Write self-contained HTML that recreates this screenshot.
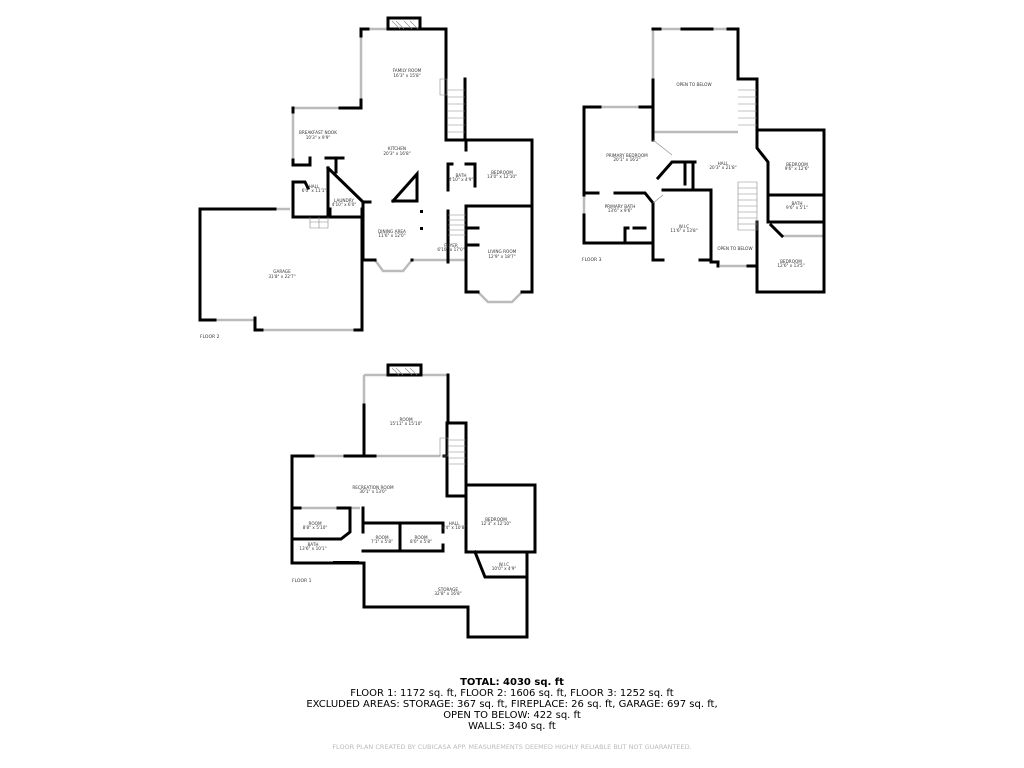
<!DOCTYPE html>
<html><head><meta charset="utf-8"><style>
html,body{margin:0;padding:0;background:#fff;width:1024px;height:768px;overflow:hidden}
svg text{font-family:"DejaVu Sans","Liberation Sans",sans-serif}
.w{fill:none;stroke:#000;stroke-width:3;stroke-linecap:square;stroke-linejoin:miter}
.t{fill:none;stroke:#000;stroke-width:2}
.g{fill:none;stroke:#bbb;stroke-width:2.5}
.s{fill:none;stroke:#888;stroke-width:0.6}
.l{font-size:4.2px;fill:#333;text-anchor:middle}
.f{font-size:4.5px;fill:#333}
</style></head><body>
<svg width="1024" height="768" viewBox="0 0 1024 768" xmlns="http://www.w3.org/2000/svg">
<!-- FLOOR 2 -->
<g>
<path class="g" d="M362 29H446 M361 29V108 M293 108H361 M293 108V160 M275 209H290 M215 320H255 M262 330H355 M412 260H466 M375 260L383 271H403L412 260 M478 292L488 302H512L522 292 M532 140V175 M465 140H532"/>
<path class="w" d="M361 29H368 M361 29V36 M420 29H446V79 M361 100V108H354 M293 108V112 M340 108H354"/>
<rect x="388" y="18" width="32" height="11" fill="none" stroke="#000" stroke-width="3"/>
<path class="s" d="M392 21L400 29M396 21L404 29M404 21L412 29M410 21L418 29"/>
<path class="w" d="M446 79V140H465 M465 79V140 M465 140H532V292H522 M466 292H478 M466 206V292 M466 206H532 M363 202V260H375 M412 260H412 M200 209H275 M200 209V320H215 M255 318V330H262 M355 330H362V209 M293 160V165H310V158 M326 158H343 M336 158V172 M293 182V217H330V209 M293 182H305L308 188 M328 168V217H363 M328 168L363 202 M393 201H417V174L393 201 M363 202H370"/>
<path class="w" d="M448 164V190 M448 164H452 M466 164H475V186 M448 211V262 M466 206V262 M466 228H478 M466 245H478 M466 140V150"/>
<path class="s" d="M448 90H465M448 97H465M448 104H465M448 111H465M448 118H465M448 125H465M448 132H465 M448 215H466M448 220H466M448 225H466M448 230H466M448 235H466 M440 79H447V95H440Z M310 217V228H328V217 M310 222H328 M319 217V228"/>
<rect x="420" y="210" width="3" height="3"/><rect x="420" y="227" width="3" height="3"/>
<text class="l" x="407" y="72">FAMILY ROOM</text><text class="l" x="407" y="77">16'3" x 15'8"</text>
<text class="l" x="318" y="134">BREAKFAST NOOK</text><text class="l" x="318" y="139">10'3" x 9'9"</text>
<text class="l" x="397" y="150">KITCHEN</text><text class="l" x="397" y="155">20'3" x 16'8"</text>
<text class="l" x="461" y="177">BATH</text><text class="l" x="461" y="181">4'10" x 4'9"</text>
<text class="l" x="502" y="174">BEDROOM</text><text class="l" x="502" y="178">13'0" x 12'10"</text>
<text class="l" x="314" y="188">HALL</text><text class="l" x="314" y="192">6'0" x 11'1"</text>
<text class="l" x="344" y="202">LAUNDRY</text><text class="l" x="344" y="206">4'10" x 6'0"</text>
<text class="l" x="392" y="233">DINING AREA</text><text class="l" x="392" y="237">11'6" x 12'0"</text>
<text class="l" x="451" y="247">FOYER</text><text class="l" x="451" y="251">6'10" x 17'0"</text>
<text class="l" x="502" y="253">LIVING ROOM</text><text class="l" x="502" y="258">12'9" x 18'7"</text>
<text class="l" x="282" y="273">GARAGE</text><text class="l" x="282" y="278">31'8" x 22'7"</text>
<text class="f" x="200" y="338">FLOOR 2</text>
</g>
<!-- FLOOR 3 -->
<g>
<path class="g" d="M653 29H738 M653 29V80 M600 107H640 M653 132H738 M584 195V215 M700 190H711 M720 266H748 M778 292H810 M782 130H810 M782 236H824"/>
<path class="w" d="M653 80V140 M653 29H660 M682 29H712 M728 29H738V79 M738 79H757 M757 79V130H824V292H757V222 M584 107H600 M640 107H653 M584 107V195 M584 215V243H653 M584 193H598 M615 193H645L653 203V260H663 M700 260H711V190H663 M711 262H718V266 M748 266H757 M757 130V148L768 162V220 M768 195H824 M768 222H824 M771 225L782 236 M658 178L672 162H695 M685 162V184 M693 162V190 M625 243V228H628 M634 228H645"/>
<path class="s" d="M738 90H757M738 97H757M738 104H757M738 111H757M738 118H757M738 125H757 M738 182H757V230H738Z M738 188H757M738 194H757M738 200H757M738 206H757M738 212H757M738 218H757M738 224H757 M653 140L672 155 M653 203L663 195"/>
<text class="l" x="694" y="86">OPEN TO BELOW</text>
<text class="l" x="627" y="157">PRIMARY BEDROOM</text><text class="l" x="627" y="161">20'1" x 16'2"</text>
<text class="l" x="723" y="165">HALL</text><text class="l" x="723" y="169">20'3" x 21'8"</text>
<text class="l" x="797" y="166">BEDROOM</text><text class="l" x="797" y="170">9'6" x 12'6"</text>
<text class="l" x="797" y="205">BATH</text><text class="l" x="797" y="209">9'6" x 5'1"</text>
<text class="l" x="620" y="208">PRIMARY BATH</text><text class="l" x="620" y="212">13'6" x 9'6"</text>
<text class="l" x="684" y="228">W.I.C</text><text class="l" x="684" y="232">11'6" x 13'8"</text>
<text class="l" x="735" y="250">OPEN TO BELOW</text>
<text class="l" x="791" y="263">BEDROOM</text><text class="l" x="791" y="267">12'6" x 13'5"</text>
<text class="f" x="582" y="261">FLOOR 3</text>
</g>
<!-- FLOOR 1 -->
<g>
<path class="g" d="M364 375H388 M421 375H448 M364 375V405 M313 456H345 M375 456H440 M466 485H482 M484 485H520 M300 508H338 M350 508H360"/>
<rect x="388" y="365" width="33" height="10" fill="none" stroke="#000" stroke-width="3"/>
<path class="s" d="M392 368L399 375M396 368L403 375M405 368L412 375M410 368L417 375"/>
<path class="w" d="M364 405V456H375 M292 456H313 M345 456H364 M292 456V563H364 M448 375V423H466V485H535V552H527V637H468V607H364V563 M444 456H447 M447 423V496H466 M466 485V552H535 M475 552L485 577H527 M292 508H300 M338 508H350V532L341 539H292 M363 508V532 M363 523H443V532 M363 551H443 M400 523V551 M443 545V551 M466 552H480"/>
<path class="s" d="M448 440H466M448 446H466M448 452H466M448 458H466M448 464H466 M440 438H448V456H440Z"/>
<rect x="333" y="561" width="26" height="3"/>
<text class="l" x="406" y="421">ROOM</text><text class="l" x="406" y="425">15'11" x 15'10"</text>
<text class="l" x="373" y="489">RECREATION ROOM</text><text class="l" x="373" y="493">30'1" x 13'0"</text>
<text class="l" x="315" y="525">ROOM</text><text class="l" x="315" y="529">8'8" x 5'10"</text>
<text class="l" x="313" y="546">BATH</text><text class="l" x="313" y="550">13'6" x 10'1"</text>
<text class="l" x="382" y="539">ROOM</text><text class="l" x="382" y="543">7'1" x 5'8"</text>
<text class="l" x="421" y="539">ROOM</text><text class="l" x="421" y="543">8'0" x 5'8"</text>
<text class="l" x="454" y="525">HALL</text><text class="l" x="454" y="529">4'4" x 10'8"</text>
<text class="l" x="496" y="521">BEDROOM</text><text class="l" x="496" y="525">12'3" x 12'10"</text>
<text class="l" x="504" y="566">W.I.C</text><text class="l" x="504" y="570">10'0" x 4'9"</text>
<text class="l" x="448" y="591">STORAGE</text><text class="l" x="448" y="595">32'8" x 16'8"</text>
<text class="f" x="292" y="582">FLOOR 1</text>
</g>
<!-- summary -->
<g text-anchor="middle" font-size="10" fill="#000">
<text x="512" y="685" font-weight="bold">TOTAL: 4030 sq. ft</text>
<text x="512" y="696">FLOOR 1: 1172 sq. ft, FLOOR 2: 1606 sq. ft, FLOOR 3: 1252 sq. ft</text>
<text x="512" y="707">EXCLUDED AREAS: STORAGE: 367 sq. ft, FIREPLACE: 26 sq. ft, GARAGE: 697 sq. ft,</text>
<text x="512" y="718">OPEN TO BELOW: 422 sq. ft</text>
<text x="512" y="729">WALLS: 340 sq. ft</text>
<text x="512" y="749" font-size="6.5" fill="#bbb">FLOOR PLAN CREATED BY CUBICASA APP. MEASUREMENTS DEEMED HIGHLY RELIABLE BUT NOT GUARANTEED.</text>
</g>
</svg>
</body></html>
